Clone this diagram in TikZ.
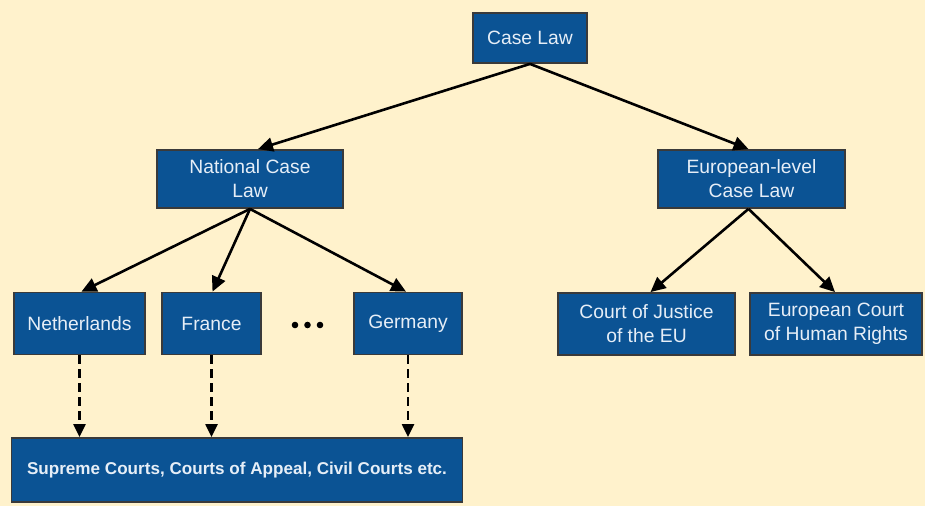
\documentclass[tikz,border=0pt]{standalone}
\usepackage{fontspec}
\setmainfont{Liberation Sans}
\usetikzlibrary{arrows.meta}
\definecolor{bg}{HTML}{FFF2CC}
\definecolor{boxblue}{HTML}{0B5394}
\definecolor{boxedge}{HTML}{3A3A3A}
\definecolor{txt}{HTML}{E6EEF7}
\begin{document}
\begin{tikzpicture}[x=1pt,y=-1pt,
  box/.style={draw=boxedge,line width=1.8pt,fill=boxblue,text=txt,align=center,
    inner sep=0pt,font=\fontsize{19.3}{24}\selectfont},
  link/.style={line width=2.6pt,-{Triangle[length=15pt,width=14pt]}},
  dlink/.style={line width=2.2pt,dash pattern=on 9pt off 5pt,-{Triangle[length=13pt,width=12pt]}}]
\fill[bg] (0,0) rectangle (925,506);
\useasboundingbox (0,0) rectangle (925,506);
\node[box,minimum width=114pt,minimum height=50pt] (cl) at (530,38) {Case Law};
\node[box,minimum width=186pt,minimum height=58pt] (ncl) at (250,179) {National Case\\Law};
\node[box,minimum width=187pt,minimum height=58pt] (eur) at (751.5,179) {European-level\\Case Law};
\node[box,minimum width=131pt,minimum height=62pt] (nl) at (79.5,323.5) {Netherlands};
\node[box,minimum width=99pt,minimum height=62pt] (fr) at (211.5,323.5) {France};
\node[box,minimum width=108pt,minimum height=62pt] (de) at (408,323.5) {Germany};
\node[box,minimum width=451pt,minimum height=64pt,font=\fontsize{17.1}{20}\selectfont\bfseries] (sup) at (237,470) {Supreme Courts, Courts of Appeal, Civil Courts etc.};
\node[box,minimum width=177pt,minimum height=62pt] (cj) at (646.5,324) {Court of Justice\\of the EU};
\node[box,minimum width=172pt,minimum height=62pt] (ec) at (836,324) {European Court\\of Human Rights};
\foreach \x/\n in {295/d1,307.5/d2,320/d3} \fill (\x,325) circle (3.3pt) coordinate (\n);
\draw[link] (cl.south) -- ([xshift=8pt]ncl.north);
\draw[link] (cl.south) -- ([xshift=-3pt]eur.north);
\draw[link] (ncl.south) -- ([xshift=2pt]nl.north);
\draw[link] (ncl.south) -- ([xshift=1pt]fr.north);
\draw[link] (ncl.south) -- ([xshift=-2pt]de.north);
\draw[link] ([xshift=-3pt]eur.south) -- ([xshift=4pt]cj.north);
\draw[link] ([xshift=-3pt]eur.south) -- ([xshift=-1pt]ec.north);
\draw[dlink] (nl.south) -- (nl.south |- sup.north);
\draw[dlink] (fr.south) -- (fr.south |- sup.north);
\draw[dlink] (de.south) -- (de.south |- sup.north);
\end{tikzpicture}
\end{document}
